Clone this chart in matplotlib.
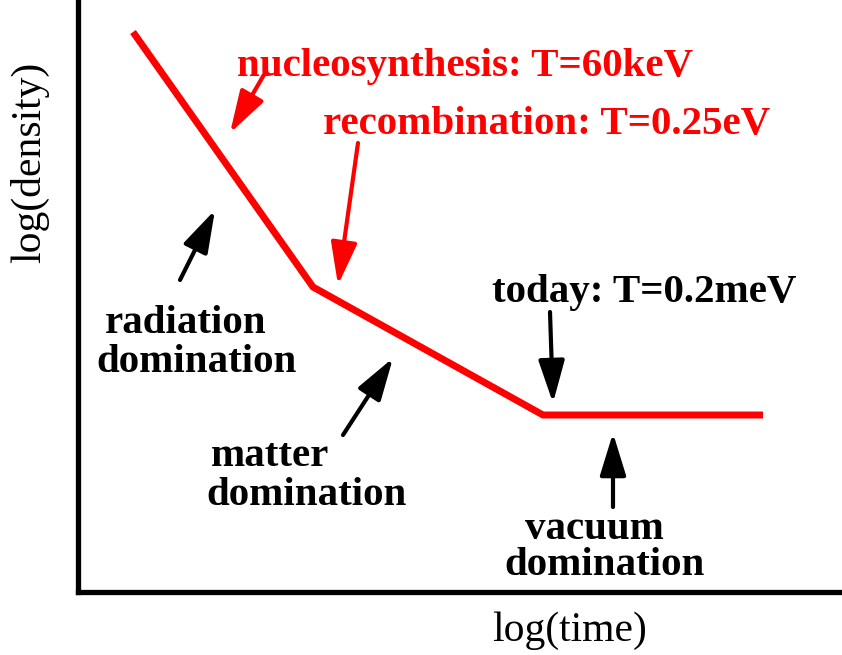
import matplotlib
matplotlib.use("Agg")
import matplotlib.pyplot as plt
from matplotlib.patches import FancyArrowPatch

# Schematic data (arbitrary log units)
log_time = [55, 235, 465, 685]
log_density = [560, 305, 177, 177]

labels_red = ["nucleosynthesis: T=60keV", "recombination: T=0.25eV"]
label_today = "today: T=0.2meV"
era_labels = [("radiation", "domination"), ("matter", "domination"), ("vacuum", "domination")]
xlabel = "log(time)"
ylabel = "log(density)"

W, H = 842, 655
X0, Y0 = 78, 592  # pixel position of axes origin


def P(px, py):
    return (px - X0, Y0 - py)


fig = plt.figure(figsize=(W / 100, H / 100), dpi=100)
ax = fig.add_axes([X0 / W, (H - Y0) / H, (W - X0) / W, Y0 / H])
ax.set_xlim(0, W - X0)
ax.set_ylim(0, Y0)
for s in ["top", "right"]:
    ax.spines[s].set_visible(False)
for s in ["left", "bottom"]:
    ax.spines[s].set_linewidth(3.8)
    ax.spines[s].set_color("black")
    ax.spines[s].set_capstyle("projecting")
ax.set_xticks([])
ax.set_yticks([])

ax.plot(log_time, log_density, color="#ff0000", lw=5.0, solid_joinstyle="miter",
        solid_capstyle="butt", clip_on=False)

FS = 29.5
font = dict(family="Liberation Serif", fontsize=FS, fontweight="bold")
red = "#ff0000"

ax.text(*P(237, 76), labels_red[0], color=red, ha="left", va="baseline", **font)
ax.text(*P(323, 134), labels_red[1], color=red, ha="left", va="baseline", **font)
ax.text(*P(492, 302), label_today, color="black", ha="left", va="baseline", **font)

era_pos = [((105, 333), (96, 372)), ((211, 466), (206, 505)), ((525, 539), (504, 575))]
for (l1, l2), (p1, p2) in zip(era_labels, era_pos):
    ax.text(*P(*p1), l1, color="black", ha="left", va="baseline", **font)
    ax.text(*P(*p2), l2, color="black", ha="left", va="baseline", **font)

ax.text(*P(492, 641), xlabel, color="black", ha="left", va="baseline",
        family="Liberation Serif", fontsize=30, clip_on=False)
ax.text(*P(30, 162), ylabel, color="black", ha="center", va="center", rotation=90,
        family="Liberation Serif", fontsize=30, clip_on=False)

arrows = [
    ((265, 73), (230, 133), red),
    ((358, 143), (338, 285), red),
    ((180, 280), (215, 210), "black"),
    ((343, 435), (393, 358), "black"),
    ((550, 312), (553, 403), "black"),
    ((613, 507), (613, 433), "black"),
]
for tail, tip, c in arrows:
    a = FancyArrowPatch(P(*tail), P(*tip), arrowstyle="-|>,head_length=1.3,head_width=0.4",
                        mutation_scale=20, color=c, lw=3.0, shrinkA=0, shrinkB=0,
                        clip_on=False)
    ax.add_patch(a)

fig.savefig("out.png", dpi=100)
